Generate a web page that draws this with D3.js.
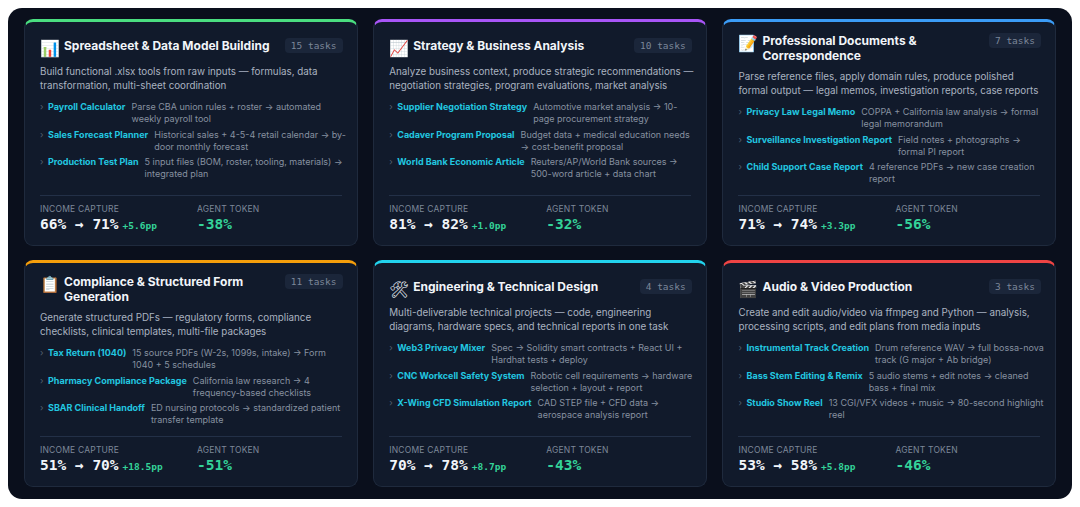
<!DOCTYPE html>
<html>
<head>
<meta charset="UTF-8">
<script src="https://cdn.jsdelivr.net/npm/d3@7"></script>
<style>
  body { margin:0; background:#fff; font-family: Inter, "Noto Sans", sans-serif; }
  #frame { position:absolute; left:8px; top:8px; width:1064px; height:491px; background:#0a0f1c; border-radius:14px; }
  .card { position:absolute; width:334px; height:227px; background:#111a2b; border:1px solid #1f2a3d; border-top:3px solid; border-radius:9px; box-sizing:border-box; padding:0 16px; color:#e6ebf2; }
  .head { position:absolute; left:15px; top:13px; right:14px; display:flex; align-items:flex-start; }
  .icon { width:18px; height:18px; margin-right:6px; margin-top:1px; font-size:16px; line-height:18px; }
  .title { font-size:12px; font-weight:700; line-height:15px; flex:1; color:#f1f5f9; }
  .badge { font-family:"DejaVu Sans Mono", monospace; font-size:9.5px; color:#7b8799; background:#1b263a; border-radius:4px; padding:2px 6px; margin-top:0px; white-space:nowrap; }
  .desc { position:absolute; left:15px; right:10px; font-size:9.8px; line-height:14px; color:#aab3c0; }
  .items { position:absolute; left:15px; right:8px; }
  .item { display:flex; font-size:9px; line-height:12px; margin-bottom:3.5px; }
  .chev { color:#556070; width:8px; flex:none; }
  .name { color:#22c7e0; font-weight:700; white-space:nowrap; margin-right:6px; }
  .what { color:#8791a0; }
  .divider { position:absolute; left:15px; right:15px; top:173px; border-top:1px solid #233047; }
  .lab { position:absolute; top:182px; font-size:8.5px; color:#7d8899; letter-spacing:0.2px; }
  .big { position:absolute; top:194px; font-family:"DejaVu Sans Mono", monospace; font-weight:700; font-size:14.5px; color:#f1f5f9; }
  .pp { font-size:9.5px; color:#34d399; font-weight:600; margin-left:4px; }
  .tok { color:#34d399; }
</style>
</head>
<body>
<div id="frame"></div>
<script>
var titles = ["Spreadsheet & Data Model Building", "Strategy & Business Analysis", "Professional Documents & Correspondence",
  "Compliance & Structured Form Generation", "Engineering & Technical Design", "Audio & Video Production"];
var icons = ["📊", "📈", "📝", "📋", "🛠", "🎬"];
var taskCounts = [15, 10, 7, 11, 4, 3];
var accents = ["#4ade80", "#a855f7", "#3b9cf6", "#f59e0b", "#22d3ee", "#ef4444"];
var descs = [
  "Build functional .xlsx tools from raw inputs — formulas, data transformation, multi-sheet coordination",
  "Analyze business context, produce strategic recommendations — negotiation strategies, program evaluations, market analysis",
  "Parse reference files, apply domain rules, produce polished formal output — legal memos, investigation reports, case reports",
  "Generate structured PDFs — regulatory forms, compliance checklists, clinical templates, multi-file packages",
  "Multi-deliverable technical projects — code, engineering diagrams, hardware specs, and technical reports in one task",
  "Create and edit audio/video via ffmpeg and Python — analysis, processing scripts, and edit plans from media inputs"];
var examples = [
  [["Payroll Calculator", "Parse CBA union rules + roster → automated weekly payroll tool"],
   ["Sales Forecast Planner", "Historical sales + 4-5-4 retail calendar → by-door monthly forecast"],
   ["Production Test Plan", "5 input files (BOM, roster, tooling, materials) → integrated plan"]],
  [["Supplier Negotiation Strategy", "Automotive market analysis → 10-page procurement strategy"],
   ["Cadaver Program Proposal", "Budget data + medical education needs → cost-benefit proposal"],
   ["World Bank Economic Article", "Reuters/AP/World Bank sources → 500-word article + data chart"]],
  [["Privacy Law Legal Memo", "COPPA + California law analysis → formal legal memorandum"],
   ["Surveillance Investigation Report", "Field notes + photographs → formal PI report"],
   ["Child Support Case Report", "4 reference PDFs → new case creation report"]],
  [["Tax Return (1040)", "15 source PDFs (W-2s, 1099s, intake) → Form 1040 + 5 schedules"],
   ["Pharmacy Compliance Package", "California law research → 4 frequency-based checklists"],
   ["SBAR Clinical Handoff", "ED nursing protocols → standardized patient transfer template"]],
  [["Web3 Privacy Mixer", "Spec → Solidity smart contracts + React UI + Hardhat tests + deploy"],
   ["CNC Workcell Safety System", "Robotic cell requirements → hardware selection + layout + report"],
   ["X-Wing CFD Simulation Report", "CAD STEP file + CFD data → aerospace analysis report"]],
  [["Instrumental Track Creation", "Drum reference WAV → full bossa-nova track (G major + Ab bridge)"],
   ["Bass Stem Editing & Remix", "5 audio stems + edit notes → cleaned bass + final mix"],
   ["Studio Show Reel", "13 CGI/VFX videos + music → 80-second highlight reel"]]];
var captureFrom = [66, 81, 71, 51, 70, 53];
var captureTo = [71, 82, 74, 70, 78, 58];
var capturePP = [5.6, 1.0, 3.3, 18.5, 8.7, 5.8];
var tokenChange = [-38, -32, -56, -51, -43, -46];

var cards = titles.map(function(t, i) {
  return { title:t, icon:icons[i], n:taskCounts[i], color:accents[i], desc:descs[i], ex:examples[i],
    from:captureFrom[i], to:captureTo[i], pp:capturePP[i], tok:tokenChange[i], col:i % 3, row:Math.floor(i / 3) };
});

var x = d3.scaleBand().domain([0, 1, 2]).range([24, 1056]).paddingInner(0.045);
var y = d3.scaleBand().domain([0, 1]).range([19, 487]).paddingInner(0.062);

var card = d3.select("body").selectAll(".card").data(cards).enter().append("div")
  .attr("class", "card")
  .style("left", function(d) { return x(d.col) + "px"; })
  .style("top", function(d) { return y(d.row) + "px"; })
  .style("width", x.bandwidth() + "px")
  .style("height", y.bandwidth() + "px")
  .style("border-top-color", function(d) { return d.color; });

var twoLine = function(d) { return d.title.length > 33; };
var head = card.append("div").attr("class", "head")
  .style("top", function(d) { return twoLine(d) ? "11px" : "16px"; });
head.append("div").attr("class", "icon").text(function(d) { return d.icon; });
head.append("div").attr("class", "title").text(function(d) { return d.title; });
head.append("div").attr("class", "badge").text(function(d) { return d.n + " tasks"; });

card.append("div").attr("class", "desc")
  .style("top", function(d) { return twoLine(d) ? "48px" : "43px"; })
  .text(function(d) { return d.desc; });

var items = card.append("div").attr("class", "items")
  .style("top", function(d) { return twoLine(d) ? "84px" : "79px"; });
var it = items.selectAll(".item").data(function(d) { return d.ex; }).enter().append("div").attr("class", "item");
it.append("span").attr("class", "chev").text("›");
it.append("span").attr("class", "name").text(function(d) { return d[0]; });
it.append("span").attr("class", "what").text(function(d) { return d[1]; });

card.append("div").attr("class", "divider");
card.append("div").attr("class", "lab").style("left", "15px").text("INCOME CAPTURE");
card.append("div").attr("class", "lab").style("left", "172px").text("AGENT TOKEN");
var big = card.append("div").attr("class", "big").style("left", "15px");
big.append("span").text(function(d) { return d.from + "% → " + d.to + "%"; });
big.append("span").attr("class", "pp").text(function(d) { return "+" + d.pp.toFixed(1) + "pp"; });
card.append("div").attr("class", "big tok").style("left", "172px").text(function(d) { return d.tok + "%"; });
</script>
</body>
</html>
